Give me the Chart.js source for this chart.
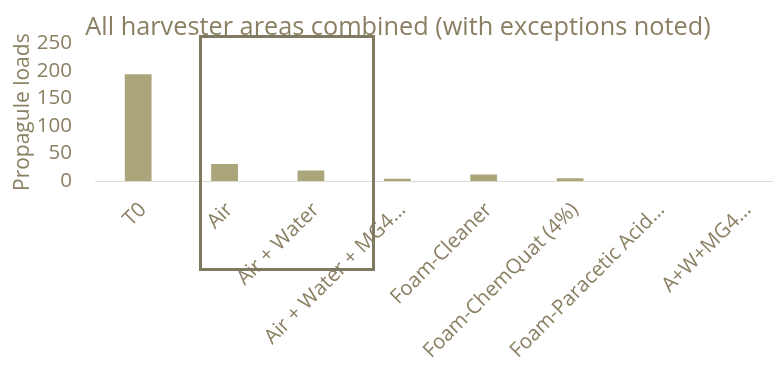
<!DOCTYPE html>
<html>
<head>
<meta charset="utf-8">
<script src="https://cdn.jsdelivr.net/npm/chart.js@4.4.1/dist/chart.umd.min.js"></script>
<style>
  html, body { margin: 0; padding: 0; background: #fff; overflow: hidden; }
  #wrap { position: relative; width: 802px; height: 365px; }
  #box {
    position: absolute; left: 199px; top: 35px; width: 170px; height: 230px;
    border: 3px solid #7e7960; pointer-events: none;
  }
</style>
</head>
<body>
<div id="wrap">
  <canvas id="chart" width="802" height="365"></canvas>
  <div id="box"></div>
</div>
<script>
// Chart data
const categories = [
  'T0',
  'Air',
  'Air + Water',
  'Air + Water + MG4\u2026',
  'Foam-Cleaner',
  'Foam-ChemQuat (4%)',
  'Foam-Paracetic Acid\u2026',
  'A+W+MG4\u2026'
];
const loads = [194, 31, 19, 4, 12, 5, 0, 0];
const yTicks = [0, 50, 100, 150, 200, 250];

const textColor = '#8b7f63';
const barColor = '#aba57c';
const fontFamily = '"Open Sans", sans-serif';

const ctx = document.getElementById('chart').getContext('2d');
new Chart(ctx, {
  type: 'bar',
  data: {
    labels: categories,
    datasets: [{
      label: 'Propagule loads',
      data: loads,
      backgroundColor: barColor,
      borderWidth: 0,
      categoryPercentage: 1,
      barPercentage: 0.31
    }]
  },
  options: {
    responsive: false,
    animation: false,
    layout: { padding: { left: 10, right: 16, top: 0, bottom: 0 } },
    plugins: {
      legend: { display: false },
      tooltip: { enabled: false },
      title: {
        display: true,
        text: 'All harvester areas combined (with exceptions noted)',
        color: textColor,
        font: { family: fontFamily, size: 25.3, weight: 'normal' },
        padding: { top: 13, bottom: 0 }
      }
    },
    scales: {
      x: {
        grid: { display: false, drawTicks: false },
        border: { display: true, color: '#dcdbcd', width: 1 },
        ticks: {
          color: textColor,
          font: { family: fontFamily, size: 20.5 },
          minRotation: 45,
          maxRotation: 45,
          autoSkip: false,
          padding: 17,
          labelOffset: 5
        },
        afterFit: (scale) => { scale.height = 184; }
      },
      y: {
        min: 0,
        max: 250,
        grid: { display: false, drawTicks: false },
        border: { display: false },
        afterBuildTicks: (scale) => { scale.ticks = yTicks.map(v => ({ value: v })); },
        ticks: {
          color: textColor,
          font: { family: fontFamily, size: 20.5 },
          padding: 23,
          autoSkip: false
        },
        title: {
          display: true,
          text: 'Propagule loads',
          color: textColor,
          font: { family: fontFamily, size: 21 },
          padding: { top: 0, bottom: 0 }
        },
        afterFit: (scale) => { scale.width = 85; }
      }
    }
  }
});
</script>
</body>
</html>
